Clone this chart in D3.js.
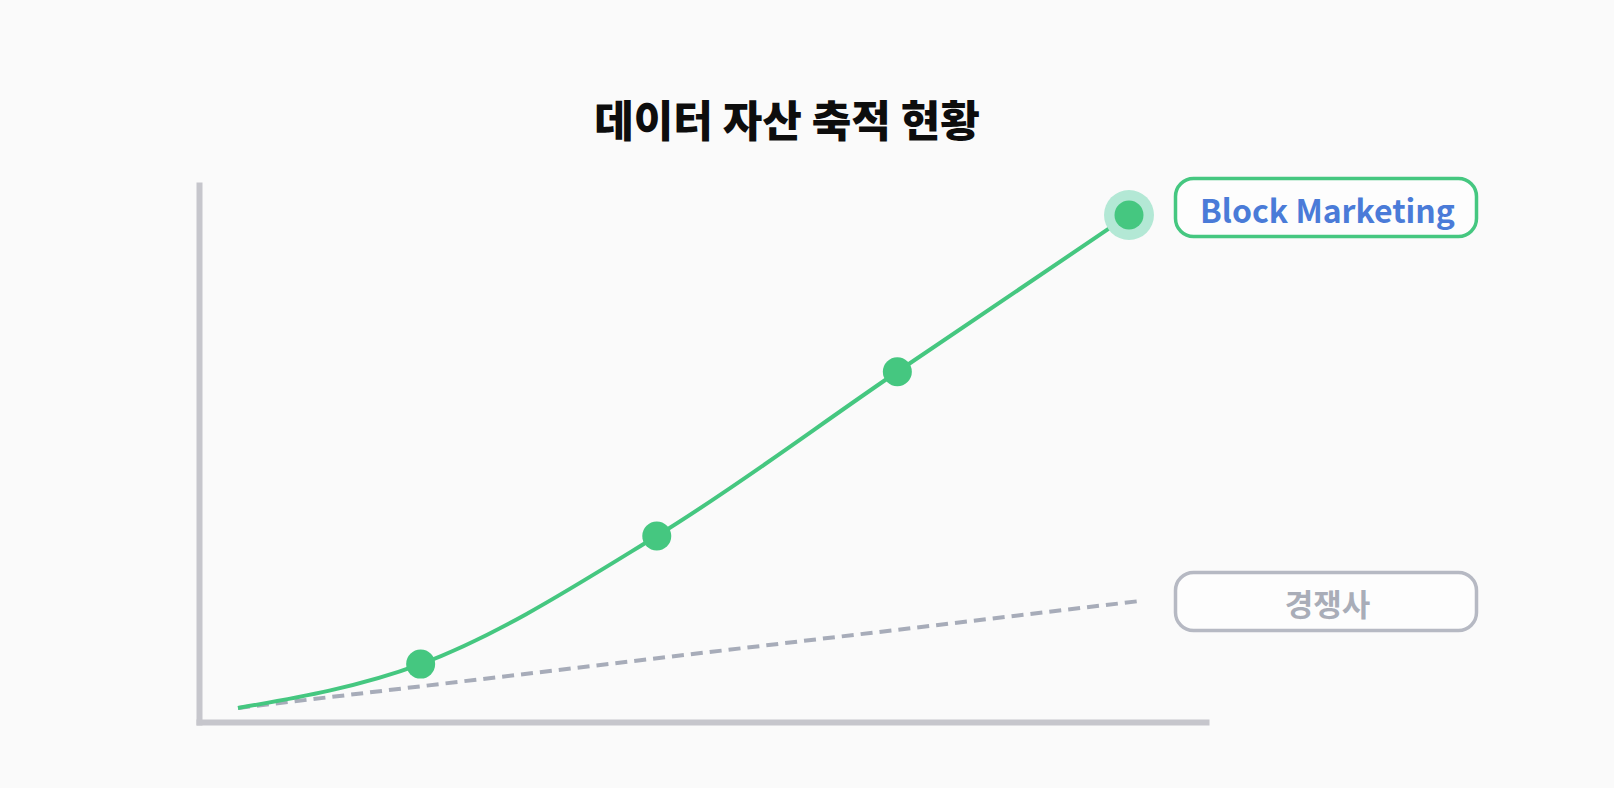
<!DOCTYPE html>
<html>
<head>
<meta charset="utf-8">
<script src="https://cdn.jsdelivr.net/npm/d3@7"></script>
<style>
  html, body { margin: 0; padding: 0; background: #fafafa; }
  svg { display: block; }
  text { font-family: "Noto Sans CJK KR", "Noto Sans", sans-serif; }
</style>
</head>
<body>
<div id="chart"></div>
<script>
const width = 1614;
const height = 788;

// data (relative progress, 0 - 100)
const ourX = [0, 20.5, 47, 74, 100];
const ourY = [0, 8.9, 34.9, 68.2, 100];
const rivalX = [0, 101.2];
const rivalY = [0, 21.7];
const labels = ['Block Marketing', '경쟁사'];
const title = '데이터 자산 축적 현황';

const green = '#45c780';
const gray = '#a7acb9';

const x = d3.scaleLinear().domain([0, 100]).range([238, 1129]);
const y = d3.scaleLinear().domain([0, 100]).range([708, 215]);

const svg = d3.select('#chart').append('svg')
  .attr('width', width)
  .attr('height', height);

svg.append('rect')
  .attr('width', width)
  .attr('height', height)
  .attr('fill', '#fafafa');

svg.append('text')
  .attr('x', 787)
  .attr('y', 118)
  .attr('text-anchor', 'middle')
  .attr('dominant-baseline', 'central')
  .attr('font-size', 43)
  .attr('font-weight', 900)
  .attr('fill', '#0d0d0d')
  .text(title);

// frame axes, no ticks
const frameX = d3.scaleLinear().domain([0, 1]).range([196, 1209]);
const frameY = d3.scaleLinear().domain([0, 1]).range([725, 182]);

svg.append('g')
  .attr('transform', 'translate(0,722)')
  .call(d3.axisBottom(frameX).ticks(0).tickSizeOuter(0))
  .call(g => g.select('.domain').attr('stroke', '#c6c6cc').attr('stroke-width', 6));

svg.append('g')
  .attr('transform', 'translate(199,0)')
  .call(d3.axisLeft(frameY).ticks(0).tickSizeOuter(0))
  .call(g => g.select('.domain').attr('stroke', '#c6c6cc').attr('stroke-width', 6));

const ours = ourX.map((v, i) => ({x: v, y: ourY[i]}));
const rival = rivalX.map((v, i) => ({x: v, y: rivalY[i]}));

const line = d3.line()
  .x(d => x(d.x))
  .y(d => y(d.y));

svg.append('path')
  .datum(rival)
  .attr('d', line)
  .attr('fill', 'none')
  .attr('stroke', gray)
  .attr('stroke-width', 4)
  .attr('stroke-dasharray', '12 7');

svg.append('path')
  .datum(ours)
  .attr('d', line.curve(d3.curveMonotoneX))
  .attr('fill', 'none')
  .attr('stroke', green)
  .attr('stroke-width', 4);

const last = ours[ours.length - 1];
svg.append('circle')
  .attr('cx', x(last.x))
  .attr('cy', y(last.y))
  .attr('r', 25)
  .attr('fill', '#b3e8d5');

svg.selectAll('circle.pt')
  .data(ours.slice(1))
  .enter().append('circle')
  .attr('class', 'pt')
  .attr('cx', d => x(d.x))
  .attr('cy', d => y(d.y))
  .attr('r', 14.5)
  .attr('fill', green);

// end labels
const boxes = [
  {text: labels[0], top: 178.5, stroke: green, color: '#4a7bd8', size: 32},
  {text: labels[1], top: 572.5, stroke: '#b6b9c3', color: '#a9adb8', size: 31}
];

const lab = svg.selectAll('g.lab')
  .data(boxes)
  .enter().append('g')
  .attr('class', 'lab')
  .attr('transform', d => `translate(1175.5,${d.top})`);

lab.append('rect')
  .attr('width', 301)
  .attr('height', 58)
  .attr('rx', 18)
  .attr('fill', '#fdfdfd')
  .attr('stroke', d => d.stroke)
  .attr('stroke-width', 3.5);

lab.append('text')
  .attr('x', 152)
  .attr('y', 30)
  .attr('text-anchor', 'middle')
  .attr('dominant-baseline', 'central')
  .attr('font-size', d => d.size)
  .attr('font-weight', 700)
  .attr('fill', d => d.color)
  .text(d => d.text);
</script>
</body>
</html>
